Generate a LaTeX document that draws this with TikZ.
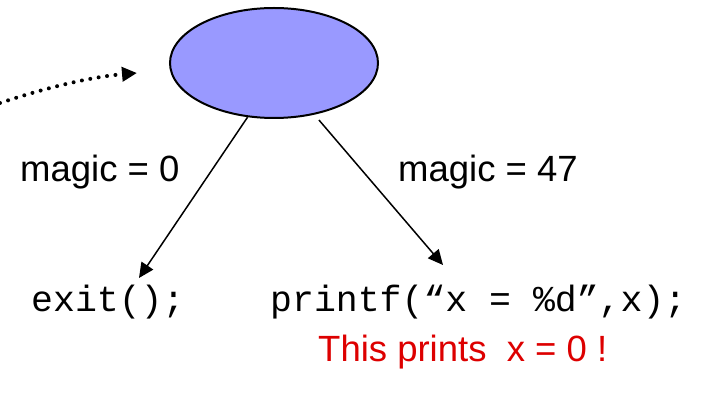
\documentclass[tikz,border=0pt]{standalone}
\usepackage{fontspec}
\setmainfont{Liberation Sans}
\newfontfamily\codefont{Liberation Mono}
\usetikzlibrary{shapes.geometric,arrows.meta}
\definecolor{ellfill}{RGB}{153,153,255}
\definecolor{redtxt}{RGB}{221,0,0}
\begin{document}
\begin{tikzpicture}[x=1pt,y=-1pt,
  lbl/.style={anchor=base west,inner sep=0pt,font=\fontsize{36.5}{40}\selectfont},
  codetxt/.style={anchor=base west,inner sep=0pt,font={\codefont\fontsize{36.5}{40}\selectfont}},
  arr/.style={line width=1.5pt,-{Triangle[length=15pt,width=14pt]}},
  dotline/.style={line width=4pt,line cap=round,dash pattern=on 0pt off 8.5pt,-{Triangle[length=15pt,width=14pt]}},
  blob/.style={ellipse,draw,line width=2pt,fill=ellfill,minimum width=208pt,minimum height=110pt,inner sep=0pt}]
\useasboundingbox (0,0) rectangle (702,395);
\node[blob] (ell) at (274,63) {};
\coordinate (dstart) at (0,103);
\coordinate (dend) at (137,73);
\draw[dotline] (dstart) .. controls (45,88) and (90,77) .. (dend);
\coordinate (ltip) at (139,278);
\coordinate (rtip) at (443,265);
\draw[arr] (ell.244) -- (ltip);
\draw[arr,shorten <=7pt] (ell.308) -- (rtip);
\node[lbl] (m0) at (20,182) {magic = 0};
\node[lbl] (m47) at (398,182) {magic = 47};
\node[codetxt] (ex) at (31,312) {exit();};
\node[codetxt] (pf) at (270,312) {printf(“x = \%d”,x);};
\node[lbl,text=redtxt] (msg) at (318,362) {This prints\ \ x = 0 !};
\end{tikzpicture}
\end{document}
